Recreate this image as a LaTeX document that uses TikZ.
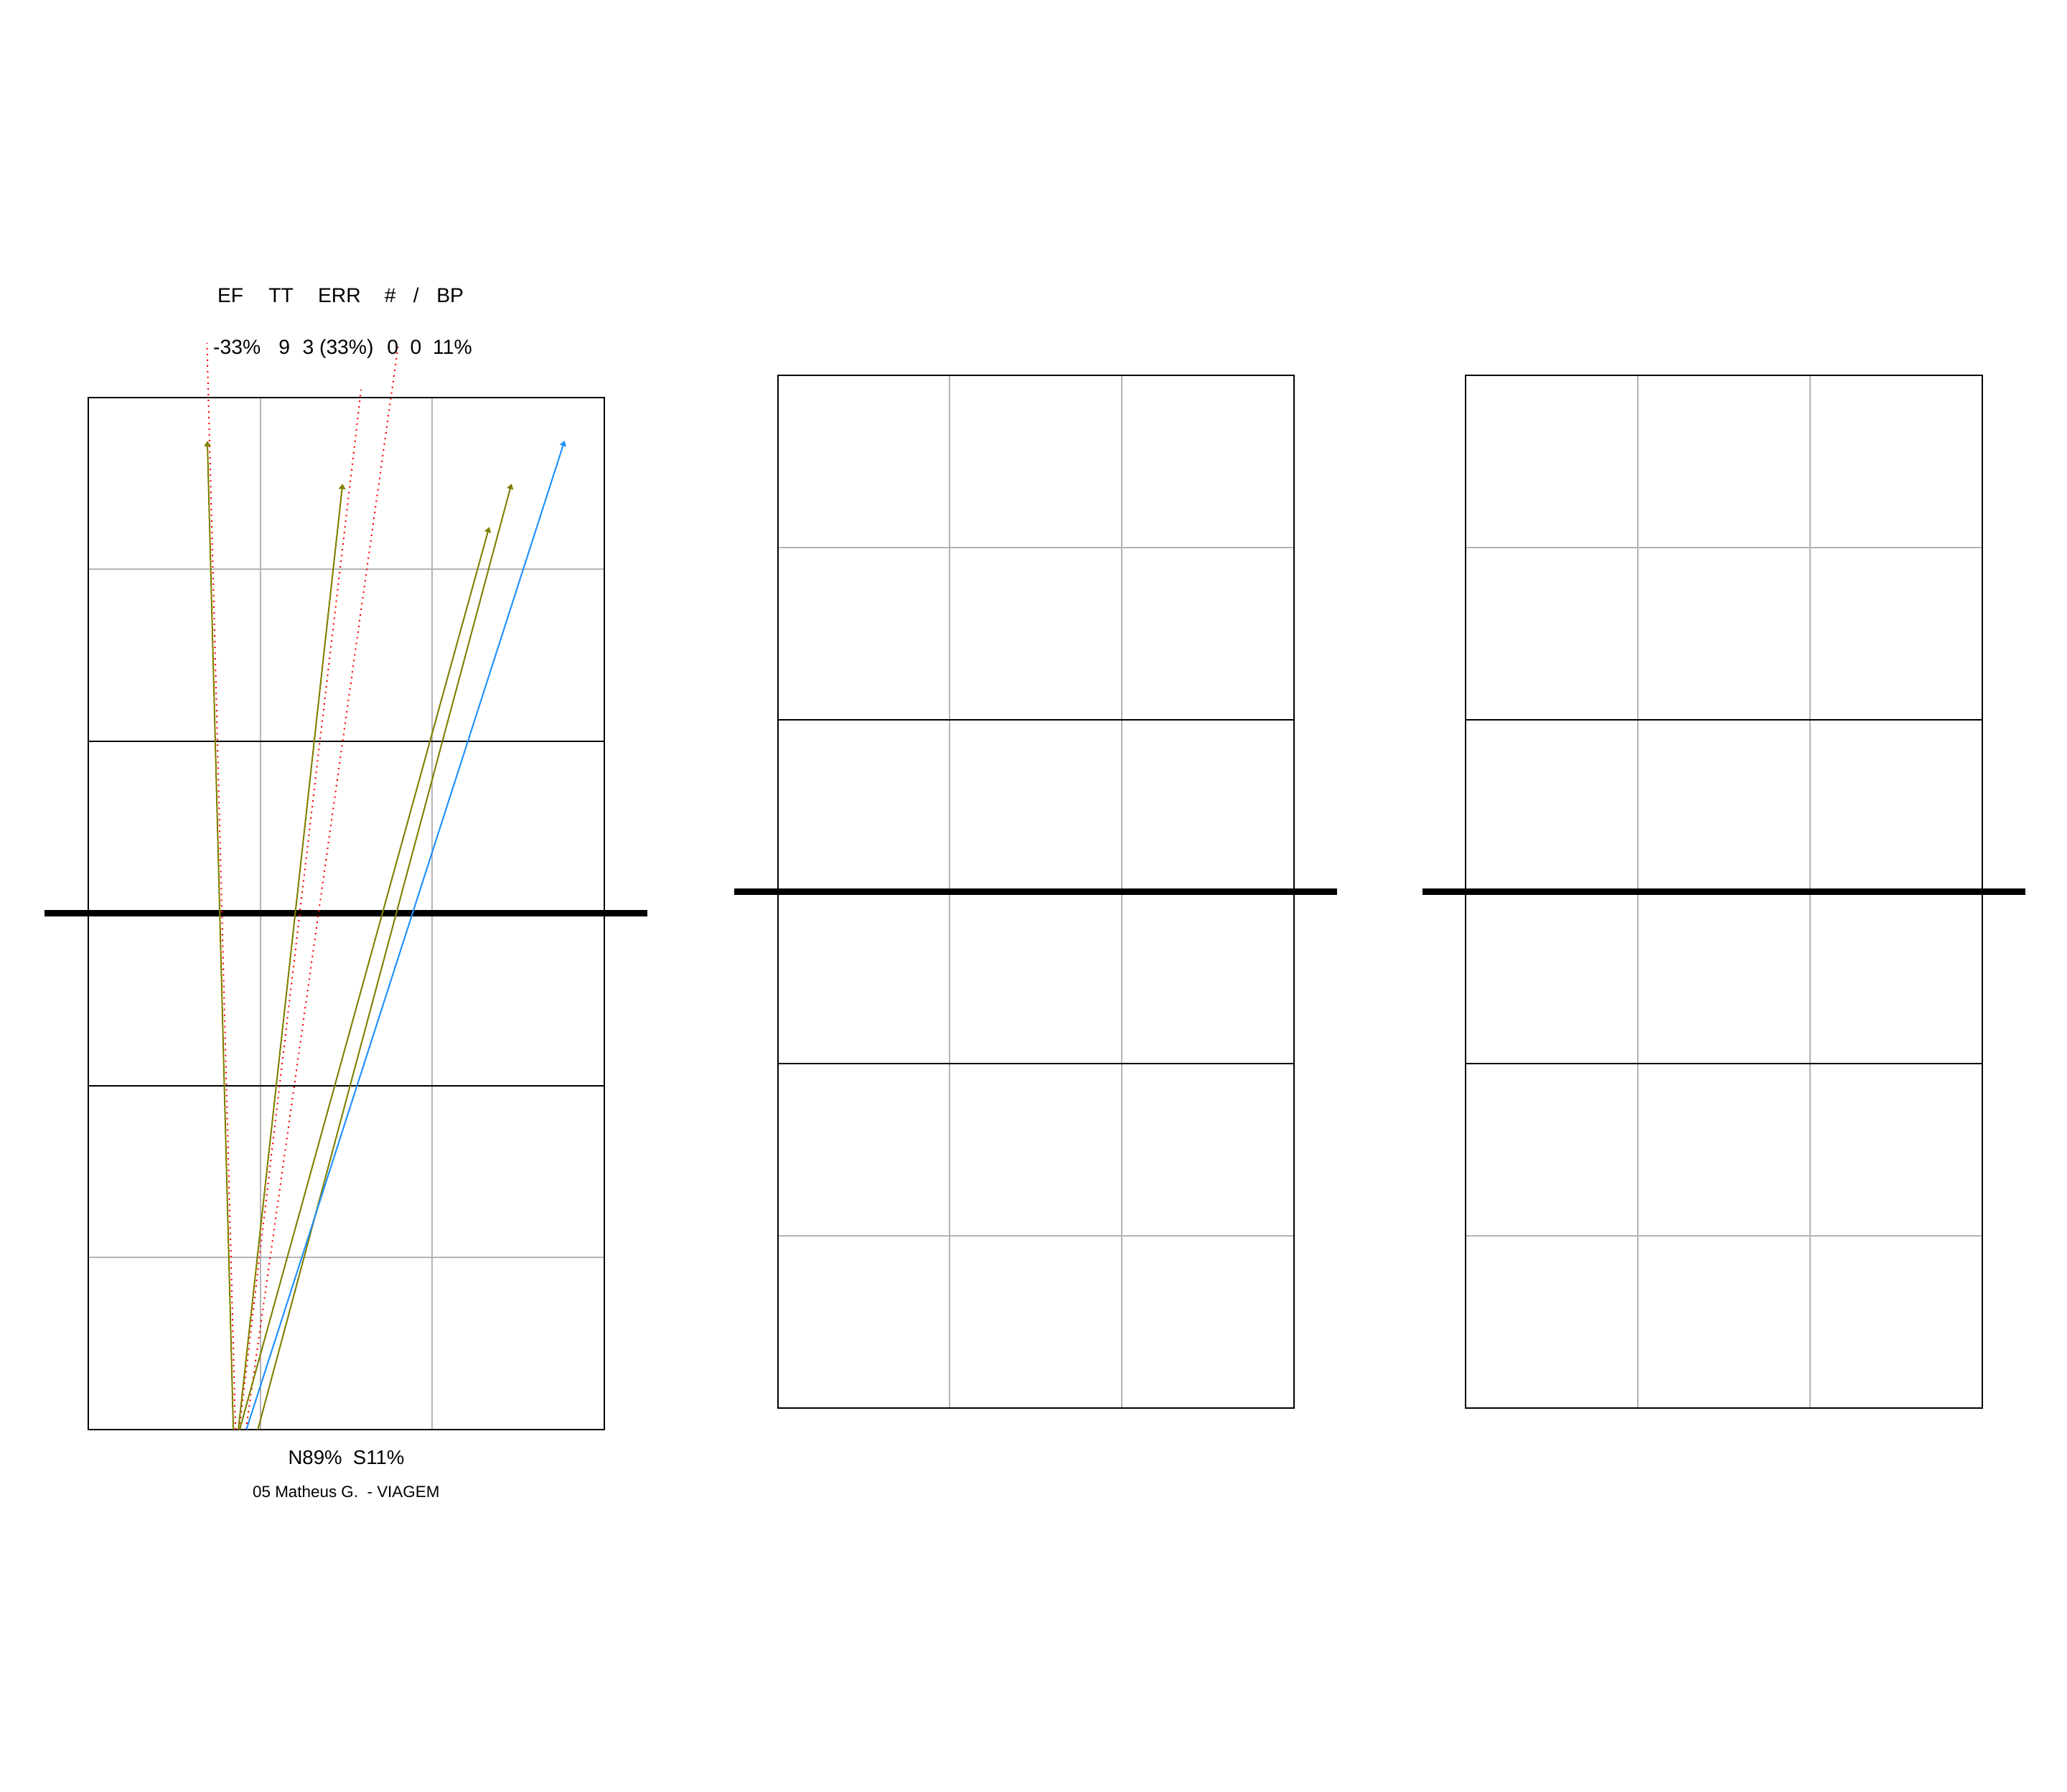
\documentclass[tikz,border=0pt]{standalone}
\usepackage{fontspec}
\setmainfont{Liberation Sans}
\usepackage{xcolor}
\usetikzlibrary{arrows.meta}

\definecolor{gridgray}{RGB}{180,180,180}
\definecolor{atkolive}{RGB}{128,128,0}
\definecolor{atkblue}{RGB}{30,144,255}

\begin{document}
\begin{tikzpicture}[
    x=1pt, y=1pt, yscale=-1, xscale=1,
    every node/.style={inner sep=0pt},
    minor/.style={draw=gridgray, line width=1.1},
    major/.style={draw=black, line width=1.1},
    net/.style={draw=black, line width=5},
    atk/.style={draw=#1, line width=1.1, -{Triangle[length=4pt,width=5pt]}},
    atk/.default=atkolive,
    trail/.style={draw=red, line width=1.1, dash pattern=on 1.1pt off 3.26pt},
    hdr/.style={font=\fontsize{15.4}{18}\selectfont, anchor=base west}
]
\useasboundingbox (0,0) rectangle (1568,1359);

%==================== Court 1 (with attacks) ====================
\draw[minor] (197.5,301.5) -- (197.5,1084.5);
\draw[minor] (328,301.5) -- (328,1084.5);
\draw[minor] (67,432) -- (458.5,432);
\draw[minor] (67,954) -- (458.5,954);
\draw[major] (67,562.5) -- (458.5,562.5);
\draw[major] (67,823.5) -- (458.5,823.5);
\draw[major] (67,301.5) rectangle (458.5,1084.5);
\draw[net] (34,693) -- (491,693);

%==================== Court 2 ====================
\draw[minor] (720.5,285) -- (720.5,1068);
\draw[minor] (851,285) -- (851,1068);
\draw[minor] (590,415.5) -- (981.5,415.5);
\draw[minor] (590,937.5) -- (981.5,937.5);
\draw[major] (590,546) -- (981.5,546);
\draw[major] (590,807) -- (981.5,807);
\draw[major] (590,285) rectangle (981.5,1068);
\draw[net] (557,676.5) -- (1014.5,676.5);

%==================== Court 3 ====================
\draw[minor] (1242.5,285) -- (1242.5,1068);
\draw[minor] (1373,285) -- (1373,1068);
\draw[minor] (1112,415.5) -- (1503.5,415.5);
\draw[minor] (1112,937.5) -- (1503.5,937.5);
\draw[major] (1112,546) -- (1503.5,546);
\draw[major] (1112,807) -- (1503.5,807);
\draw[major] (1112,285) rectangle (1503.5,1068);
\draw[net] (1079,676.5) -- (1536.5,676.5);

%==================== Attack end points ====================
\coordinate (r1s) at (178.6,1084.5);  \coordinate (r1t) at (157,260.2);
\coordinate (r2s) at (181.5,1084.5);  \coordinate (r2t) at (273.9,295.6);
\coordinate (r3s) at (186.6,1084.5);  \coordinate (r3t) at (302.2,261.3);
\coordinate (a1s) at (177,1084.5);    \coordinate (a1t) at (157.3,334.5);
\coordinate (a2s) at (180.8,1084.5);  \coordinate (a2t) at (259.9,367);
\coordinate (a3s) at (181.8,1084.5);  \coordinate (a3t) at (371.1,399.8);
\coordinate (a4s) at (195.6,1084.5);  \coordinate (a4t) at (388,367);
\coordinate (a5s) at (186.9,1084.5);  \coordinate (a5t) at (428.3,334.3);

%==================== Errors (dotted) ====================
\draw[trail] (r1s) -- (r1t);
\draw[trail] (r2s) -- (r2t);
\draw[trail] (r3s) -- (r3t);

%==================== Attacks ====================
\draw[atk] (a1s) -- (a1t);
\draw[atk] (a2s) -- (a2t);
\draw[atk] (a3s) -- (a3t);
\draw[atk] (a4s) -- (a4t);
\draw[atk=atkblue] (a5s) -- (a5t);

%==================== Labels ====================
% header
\node[hdr] (hEF)   at (164.8,229.6) {EF};
\node[hdr] (hTT)   at (203.6,229.6) {TT};
\node[hdr] (hERR)  at (241,229.6)   {ERR};
\node[hdr] (hKill) at (291.6,229.6) {\#};
\node[hdr] (hBlk)  at (313.3,229.6) {/};
\node[hdr] (hBP)   at (331,229.6)   {BP};
% values
\node[hdr] (vEF)   at (161.6,268.6) {-33\%};
\node[hdr] (vTT)   at (211.3,268.6) {9};
\node[hdr] (vERR)  at (229.3,268.6) {3 (33\%)};
\node[hdr] (vKill) at (293.5,268.6) {0};
\node[hdr] (vBlk)  at (311,268.6)   {0};
\node[hdr] (vBP)   at (328.2,268.6) {11\%};
% footer
\node[anchor=base, font=\fontsize{15}{18}\selectfont] (split) at (262.7,1111.1) {N89\%\ \ S11\%};
\node[anchor=base, font=\fontsize{12.2}{14}\selectfont] (player) at (262.6,1136.1) {05 Matheus G.\ \ - VIAGEM};

\end{tikzpicture}
\end{document}
